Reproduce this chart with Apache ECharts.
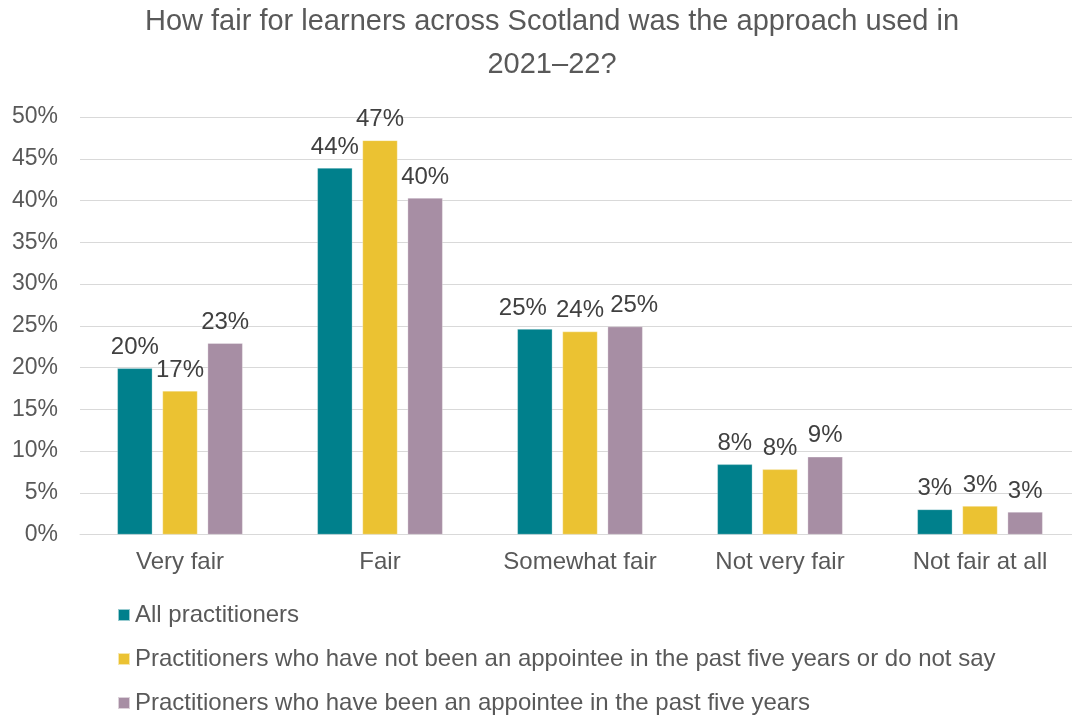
<!DOCTYPE html>
<html>
<head>
<meta charset="utf-8">
<script src="https://cdn.jsdelivr.net/npm/echarts@6/dist/echarts.min.js"></script>
<style>
html,body{margin:0;padding:0;background:#fff;overflow:hidden;width:1072px;height:716px;}
#chart{width:1080px;height:716px;}
</style>
</head>
<body>
<div id="chart"></div>
<script>
var titleText = 'How fair for learners across Scotland was the approach used in\n2021–22?';
var categories = ['Very fair', 'Fair', 'Somewhat fair', 'Not very fair', 'Not fair at all'];
var seriesNames = [
  'All practitioners',
  'Practitioners who have not been an appointee in the past five years or do not say',
  'Practitioners who have been an appointee in the past five years'
];
var allPractitioners = [19.9, 43.9, 24.6, 8.4, 3.0];
var notAppointee = [17.2, 47.2, 24.3, 7.8, 3.4];
var appointee = [22.9, 40.3, 24.9, 9.3, 2.7];
var yTicks = [0, 5, 10, 15, 20, 25, 30, 35, 40, 45, 50];
var colors = ['#00808C', '#EBC232', '#A78EA4'];

var FONT = '"Liberation Sans", Arial, sans-serif';
var chart = echarts.init(document.getElementById('chart'), null, {renderer: 'canvas'});
var allSeries = [allPractitioners, notAppointee, appointee];

// spread crowded labels (two-digit labels on bars of nearly equal height), as the original does
function spread(params) {
  var i = params.dataIndex, s = params.seriesIndex;
  if (s === 1) return {};
  var v = allSeries[s][i], mid = notAppointee[i];
  if (Math.abs(v - mid) < 1.5 && Math.round(v) >= 10 && Math.round(mid) >= 10) {
    return {dx: s === 0 ? -12 : 9};
  }
  return {};
}

function mkSeries(name, data, color) {
  return {
    name: name,
    type: 'bar',
    data: data,
    barWidth: 35,
    barGap: '29%',
    itemStyle: {color: color, borderColor: 'rgba(255,255,255,0.6)', borderWidth: 0.5},
    label: {
      show: true,
      position: 'top',
      distance: 9,
      fontFamily: FONT,
      fontSize: 24,
      color: '#404040',
      formatter: function (p) { return Math.round(p.value) + '%'; }
    },
    labelLayout: spread
  };
}

chart.setOption({
  animation: false,
  backgroundColor: '#fff',
  textStyle: {fontFamily: FONT},
  graphic: [{
    type: 'text',
    x: 552,
    y: 0,
    style: {
      text: titleText,
      align: 'center',
      verticalAlign: 'top',
      fontFamily: FONT,
      fontSize: 29,
      lineHeight: 43,
      fill: '#595959'
    }
  }],
  legend: {
    orient: 'vertical',
    left: 117,
    top: 603,
    padding: 0,
    itemWidth: 12,
    itemHeight: 12,
    itemGap: 20,
    icon: 'rect',
    textStyle: {fontFamily: FONT, fontSize: 24, color: '#595959', lineHeight: 24},
    data: seriesNames
  },
  grid: {left: 80, top: 117, right: 0, bottom: 181.5, containLabel: false},
  xAxis: {
    type: 'category',
    data: categories,
    axisLine: {lineStyle: {color: '#d9d9d9', width: 1}},
    axisTick: {show: false},
    axisLabel: {fontFamily: FONT, fontSize: 24, color: '#595959', margin: 16, interval: 0, hideOverlap: false}
  },
  yAxis: {
    type: 'value',
    min: yTicks[0],
    max: yTicks[yTicks.length - 1],
    interval: yTicks[1] - yTicks[0],
    axisLine: {show: false},
    axisTick: {show: false},
    splitLine: {lineStyle: {color: '#d9d9d9', width: 1}},
    axisLabel: {fontFamily: FONT, fontSize: 23, color: '#595959', margin: 22, formatter: '{value}%'}
  },
  series: [
    mkSeries(seriesNames[0], allPractitioners, colors[0]),
    mkSeries(seriesNames[1], notAppointee, colors[1]),
    mkSeries(seriesNames[2], appointee, colors[2])
  ]
});
</script>
</body>
</html>
